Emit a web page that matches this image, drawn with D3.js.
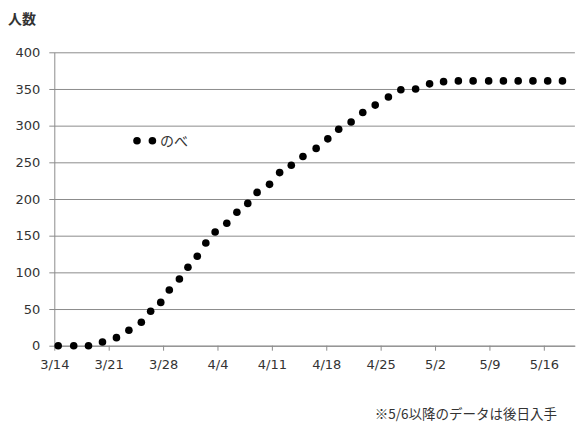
<!DOCTYPE html>
<html>
<head>
<meta charset="utf-8">
<script src="https://cdn.jsdelivr.net/npm/d3@7"></script>
<style>
  html, body { margin: 0; padding: 0; background: #fff; }
  svg { display: block; }
  .num { font-family: "DejaVu Sans", sans-serif; font-size: 13px; fill: #333; }
  .jp { font-family: "Noto Sans CJK JP", sans-serif; fill: #333; }
</style>
</head>
<body>
<svg id="chart" width="580" height="423"></svg>
<script>
// Days elapsed since 3/14 for each report, and the cumulative head count (のべ)
const days = [0.5, 2.5, 4.4, 6.2, 8.0, 9.6, 11.2, 12.4, 13.7, 14.8,
              16.1, 17.2, 18.4, 19.5, 20.7, 22.2, 23.5, 24.9, 26.1, 27.7,
              29.0, 30.5, 32.0, 33.7, 35.2, 36.6, 38.2, 39.7, 41.3, 43.0,
              44.6, 46.5, 48.3, 50.1, 52.0, 53.9, 55.9, 57.8, 59.7, 61.6,
              63.5, 65.4];
const counts = [0, 0, 0, 5, 11, 21, 32, 47, 59, 76,
                91, 107, 122, 140, 155, 167, 182, 194, 209, 220,
                236, 246, 258, 269, 282, 295, 305, 318, 328, 339,
                349, 350, 357, 360, 361, 361, 361, 361, 361, 361,
                361, 361];

// Axis tick labels (one every seven days) and value ticks
const xTickDays = [0, 7, 14, 21, 28, 35, 42, 49, 56, 63];
const xTickLabels = ["3/14", "3/21", "3/28", "4/4", "4/11", "4/18", "4/25", "5/2", "5/9", "5/16"];
const yTicks = [0, 50, 100, 150, 200, 250, 300, 350, 400];

const seriesName = "のべ";
const yTitle = "人数";
const note = "※5/6以降のデータは後日入手";

const svg = d3.select("#chart");

const x = d3.scaleLinear().domain([0, 67]).range([54.3, 574.9]);
const y = d3.scaleLinear().domain([0, 400]).range([345.7, 52.3]);

const gridColor = "#8c8c8c";

// Horizontal gridlines with short ticks left of the value axis
const yAxis = d3.axisLeft(y)
  .tickValues(yTicks)
  .tickSize(-(x.range()[1] - x.range()[0]))
  .tickSizeOuter(0)
  .tickPadding(14);
const gy = svg.append("g")
  .attr("transform", `translate(${x.range()[0]},0)`)
  .call(yAxis);
gy.select(".domain").attr("stroke", gridColor);
gy.selectAll(".tick line").attr("stroke", gridColor).attr("x1", -5);
gy.selectAll(".tick text").attr("class", "num").attr("fill", "#333")
  .attr("font-size", null).attr("font-family", null);

// Date axis along the bottom
const xAxis = d3.axisBottom(x)
  .tickValues(xTickDays)
  .tickFormat((d, i) => xTickLabels[i])
  .tickSize(5)
  .tickSizeOuter(0)
  .tickPadding(9);
const gx = svg.append("g")
  .attr("transform", `translate(0,${y(0)})`)
  .call(xAxis);
gx.select(".domain").attr("stroke", gridColor);
gx.selectAll(".tick line").attr("stroke", gridColor);
gx.selectAll(".tick text").attr("class", "num").attr("fill", "#333")
  .attr("font-size", null).attr("font-family", null);

// Data markers
svg.append("g")
  .selectAll("circle")
  .data(days.map((d, i) => ({ day: d, value: counts[i] })))
  .join("circle")
  .attr("cx", d => x(d.day))
  .attr("cy", d => y(d.value))
  .attr("r", 3.8)
  .attr("fill", "#000");

// Value axis title
svg.append("text")
  .attr("class", "jp")
  .attr("x", 8)
  .attr("y", 24)
  .attr("font-size", 14)
  .attr("font-weight", "bold")
  .attr("fill", "#222")
  .text(yTitle);

// Legend: marker sample and series name
const legend = svg.append("g").attr("transform", "translate(137,140.7)");
legend.selectAll("circle")
  .data([0, 15.4])
  .join("circle")
  .attr("cx", d => d)
  .attr("cy", 0)
  .attr("r", 3.8)
  .attr("fill", "#000");
legend.append("text")
  .attr("class", "jp")
  .attr("x", 23)
  .attr("y", 5)
  .attr("font-size", 14)
  .text(seriesName);

// Footnote
svg.append("text")
  .attr("class", "jp")
  .attr("x", 557)
  .attr("y", 419)
  .attr("text-anchor", "end")
  .attr("font-size", 13.5)
  .text(note);
</script>
</body>
</html>
